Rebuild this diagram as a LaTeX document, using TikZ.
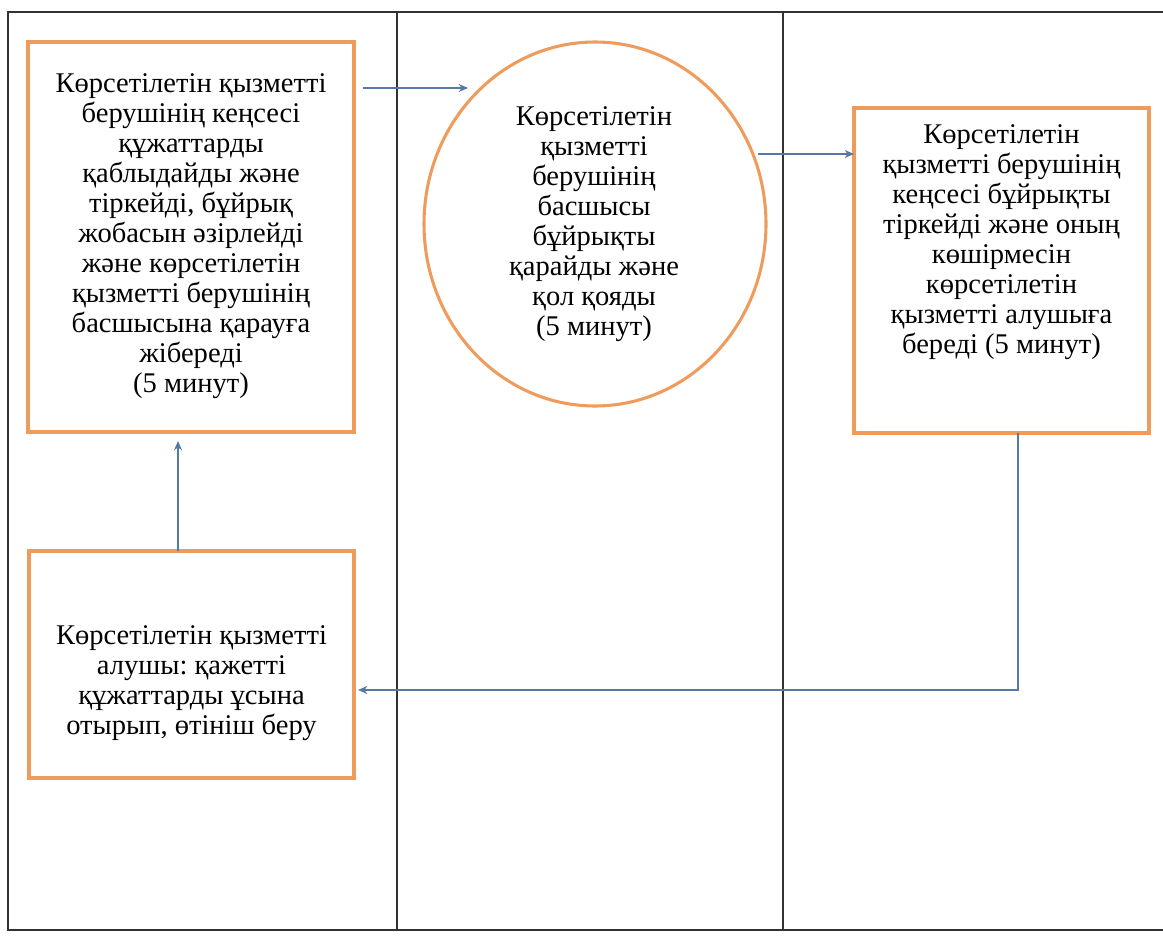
\documentclass[tikz,border=0pt]{standalone}
\usepackage{fontspec}
\setmainfont{Liberation Serif}
\usetikzlibrary{arrows.meta,shapes.geometric}
\definecolor{boxorange}{RGB}{238,155,92}
\definecolor{flowblue}{RGB}{85,120,165}
\definecolor{laneline}{RGB}{50,50,50}
\frenchspacing

\begin{document}
\begin{tikzpicture}[x=0.75pt,y=-0.75pt,
  stagebox/.style={draw=boxorange, line width=2.3pt, rectangle, inner sep=0pt, outer sep=0pt},
  stageoval/.style={draw=boxorange, line width=2.3pt, ellipse, inner sep=0pt, outer sep=0pt},
  stagetext/.style={align=center, inner sep=0pt, font=\fontsize{21.4}{22.5}\selectfont\frenchspacing},
  flow/.style={draw=flowblue, line width=1.1pt, -{Stealth[length=7pt,width=6pt]}},
  lane/.style={draw=laneline, line width=1.6pt}]

\useasboundingbox (0,0) rectangle (1163,935);

% swimlane frame
\draw[lane] (1163,12) -- (8,12) -- (8,930) -- (1163,930);
\draw[lane] (397,12) -- (397,930);
\draw[lane] (783,12) -- (783,930);

% process shapes
\node[stagebox, minimum width=244.5pt, minimum height=292.5pt] (reg) at (191,237) {};
\node[stageoval, minimum width=256.5pt, minimum height=273pt] (head) at (595,224) {};
\node[stagebox, minimum width=221.25pt, minimum height=243.75pt] (issue) at (1001.5,270.5) {};
\node[stagebox, minimum width=243.75pt, minimum height=170.25pt] (apply) at (191.5,664.5) {};

% texts
\node[stagetext] (regtext) at (191,236) {Көрсетілетін қызметті\\берушінің кеңсесі\\құжаттарды\\қаблыдайды және\\тіркейді, бұйрық\\жобасын әзірлейді\\және көрсетілетін\\қызметті берушінің\\басшысына қарауға\\жібереді\\(5 минут)};
\node[stagetext] (headtext) at (594,224) {Көрсетілетін\\қызметті\\берушінің\\басшысы\\бұйрықты\\қарайды және\\қол қояды\\(5 минут)};
\node[stagetext, anchor=north] (issuetext) at (1001.5,124) {Көрсетілетін\\қызметті берушінің\\кеңсесі бұйрықты\\тіркейді және оның\\көшірмесін\\көрсетілетін\\қызметті алушыға\\береді (5 минут)};
\node[stagetext] (applytext) at (191.5,683) {Көрсетілетін қызметті\\алушы: қажетті\\құжаттарды ұсына\\отырып, өтініш беру};

% connectors
\coordinate (a1s) at (363,88);
\coordinate (a1e) at (468,88);
\draw[flow] (a1s) -- (a1e);
\coordinate (a2s) at (758,154);
\draw[flow] (a2s) -- (a2s -| issue.west);
\coordinate (a3c) at (1018,690);
\coordinate (a3e) at (358,690);
\draw[flow] (issue.south -| a3c) -- (a3c) -- (a3e);
\coordinate (a4e) at (178,441);
\draw[flow] (apply.north -| a4e) -- (a4e);
\end{tikzpicture}
\end{document}
